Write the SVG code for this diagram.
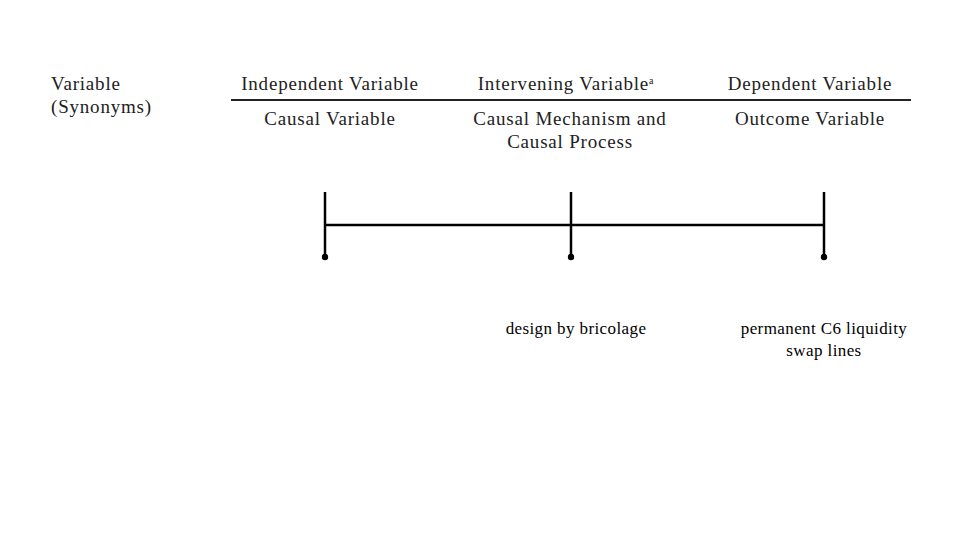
<svg xmlns="http://www.w3.org/2000/svg" width="960" height="540" viewBox="0 0 960 540">
<style>
.t{font-family:"Liberation Serif","DejaVu Serif",serif;font-size:19px;letter-spacing:0.8px;fill:#222;}
.m{text-anchor:middle;}
.b{font-family:"Liberation Serif","DejaVu Serif",serif;font-size:17px;letter-spacing:0.4px;fill:#000;text-anchor:middle;}
.ln{stroke:#000;stroke-width:2.5;fill:none;}
</style>
<rect width="960" height="540" fill="#fff"/>
<g id="header">
<text class="t" x="51" y="90">Variable</text>
<text class="t" x="51" y="113">(Synonyms)</text>
<text class="t m" x="330" y="90">Independent Variable</text>
<text class="t m" x="566" y="90">Intervening Variable<tspan font-size="10" dy="-6">a</tspan></text>
<text class="t m" x="810" y="90">Dependent Variable</text>
<line x1="231" y1="100" x2="911" y2="100" stroke="#222" stroke-width="2"/>
<text class="t m" x="330" y="125">Causal Variable</text>
<text class="t m" x="570" y="125">Causal Mechanism and</text>
<text class="t m" x="570" y="148">Causal Process</text>
<text class="t m" x="810" y="125">Outcome Variable</text>
</g>
<g id="connectors">
<line class="ln" x1="325" y1="192" x2="325" y2="257"/>
<line class="ln" x1="571" y1="192" x2="571" y2="257"/>
<line class="ln" x1="824" y1="192" x2="824" y2="257"/>
<line class="ln" x1="325" y1="225" x2="824" y2="225"/>
</g>
<g id="node-independent"><circle cx="325" cy="257" r="3.2" fill="#000"/></g>
<g id="node-intervening"><circle cx="571" cy="257" r="3.2" fill="#000"/>
<text class="b" x="576" y="334">design by bricolage</text></g>
<g id="node-dependent"><circle cx="824" cy="257" r="3.2" fill="#000"/>
<text class="b" x="824" y="334">permanent C6 liquidity</text>
<text class="b" x="824" y="356">swap lines</text></g>
</svg>
